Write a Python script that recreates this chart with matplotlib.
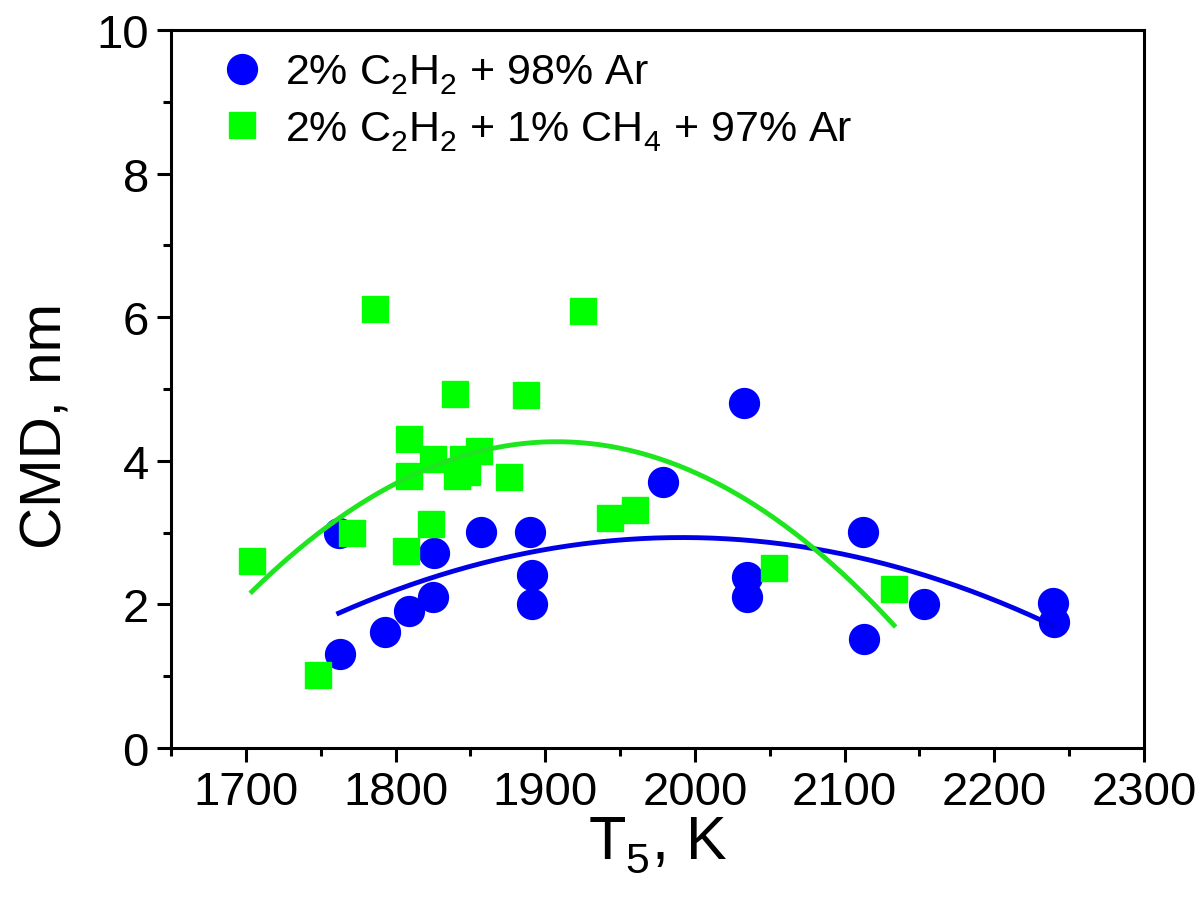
import matplotlib
matplotlib.use('Agg')
import matplotlib.pyplot as plt
from matplotlib.ticker import MultipleLocator
import numpy as np

# 2% C2H2 + 98% Ar (blue circles)
t5_c2h2 = [1762, 1763, 1793, 1809, 1825, 1826, 1857, 1890, 1891, 1891,
           1979, 2033, 2035, 2035, 2112, 2113, 2153, 2239, 2240]
cmd_c2h2 = [3.00, 1.31, 1.61, 1.91, 2.11, 2.71, 3.01, 3.01, 2.41, 2.01,
            3.71, 4.80, 2.38, 2.10, 3.01, 1.52, 2.01, 2.02, 1.75]

# 2% C2H2 + 1% CH4 + 97% Ar (green squares)
t5_ch4 = [1704, 1748, 1771, 1786, 1807, 1809, 1809, 1824, 1825, 1841, 1845,
          1848, 1856, 1876, 1887, 1840, 1925, 1943, 1960, 2053, 2133]
cmd_ch4 = [2.61, 1.02, 3.00, 6.11, 2.75, 4.31, 3.79, 3.12, 4.02, 3.79, 4.02,
           3.85, 4.14, 3.77, 4.91, 4.93, 6.09, 3.21, 3.31, 2.51, 2.21]

x_ticks = [1700, 1800, 1900, 2000, 2100, 2200, 2300]
y_ticks = [0, 2, 4, 6, 8, 10]

plt.rcParams['font.family'] = ['Liberation Sans', 'DejaVu Sans']
plt.rcParams['mathtext.fontset'] = 'custom'
plt.rcParams['mathtext.rm'] = 'Liberation Sans'
plt.rcParams['mathtext.it'] = 'Liberation Sans'

# 下标放低一点，像原图那样
try:
    import matplotlib._mathtext as _mt
    _mt.FontConstantsBase.sub1 = 0.45
    _mt.FontConstantsBase.sub2 = 0.55
except Exception:
    pass


def poly_trend(x, y, deg=2, n=200):
    """二次多项式拟合趋势线（原图是对数据做的抛物线拟合）"""
    c = np.polyfit(x, y, deg)
    xs = np.linspace(min(x), max(x), n)
    return xs, np.polyval(c, xs)


fig = plt.figure(figsize=(12.02, 9.03), dpi=100)
ax = fig.add_axes([0.1423, 0.1705, 0.8094, 0.7952])

blue = '#0000FF'
green = '#00FF00'

ax.plot(t5_c2h2, cmd_c2h2, 'o', color=blue, ms=21.5, mec=blue,
        label=r'2% C$_2$H$_2$ + 98% Ar', zorder=3)
fx, fy = poly_trend(t5_c2h2, cmd_c2h2)
ax.plot(fx, fy, '-', color='#0000E6', lw=3.5, zorder=3)
ax.plot(t5_ch4, cmd_ch4, 's', color=green, ms=18.5, mec=green,
        label=r'2% C$_2$H$_2$ + 1% CH$_4$ + 97% Ar', zorder=4)
gx, gy = poly_trend(t5_ch4, cmd_ch4)
ax.plot(gx, gy, '-', color='#1EE61E', lw=3.5, zorder=5)

ax.set_xlim(1650, 2300)
ax.set_ylim(0, 10)
ax.set_xticks(x_ticks)
ax.set_yticks(y_ticks)
ax.xaxis.set_minor_locator(MultipleLocator(50))
ax.yaxis.set_minor_locator(MultipleLocator(1))

for s in ax.spines.values():
    s.set_linewidth(2.2)
ax.tick_params(which='major', direction='out', length=10, width=2.2,
               labelsize=34, pad=6)
ax.tick_params(which='minor', direction='out', length=6, width=2.2)

ax.set_xlabel(r'T$_5$, K', fontsize=44, labelpad=0)
ax.set_ylabel('CMD, nm', fontsize=42)
ax.yaxis.set_label_coords(-0.10, 0.45)

leg = ax.legend(loc='upper left', bbox_to_anchor=(0.02, 1.01), frameon=False,
                fontsize=31, handlelength=1.0, handletextpad=0.5,
                labelspacing=0.3, borderaxespad=0.3, numpoints=1)

plt.savefig('out.png', dpi=100)
plt.close()
